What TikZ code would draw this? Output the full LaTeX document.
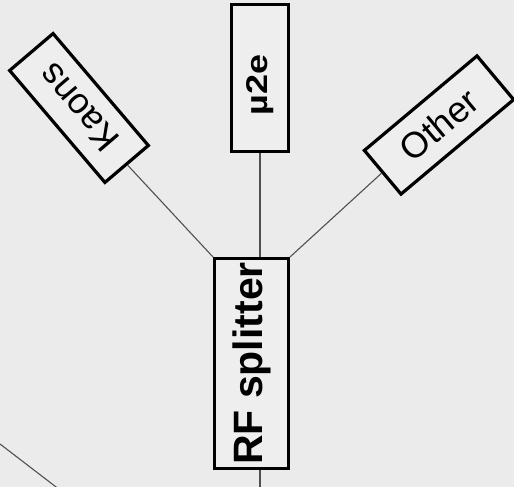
\documentclass[tikz,border=0pt]{standalone}
\usepackage{fontspec}
\setmainfont{Liberation Sans}
\definecolor{bg}{HTML}{EBEBEB}
\definecolor{boxfill}{HTML}{EEEEEE}
\definecolor{wire}{HTML}{505050}
\tikzset{
  blockbox/.style={draw=black, line width=3.2pt, fill=boxfill, inner sep=0pt,
    minimum width=147pt, minimum height=57pt, anchor=center},
  wireline/.style={draw=wire, line width=1.1pt}
}
\begin{document}
\begin{tikzpicture}[x=1pt, y=-1pt]
  % canvas
  \fill[bg] (0,0) rectangle (514,487);
  \useasboundingbox (0,0) rectangle (514,487);

  % blocks
  \node[blockbox, rotate=90] (mu) at (260,78)
    {\fontsize{30}{30}\selectfont\bfseries\scalebox{1.2}[1]{µ2e}\hspace*{14pt}};
  \node[blockbox, rotate=90, minimum width=210pt, minimum height=74pt] (split) at (251.5,363.5)
    {\fontsize{41}{41}\selectfont\bfseries RF splitter};
  \node[blockbox, rotate=130.4] (kaons) at (79,108)
    {\fontsize{36}{36}\selectfont Kaons};
  \node[blockbox, rotate=40] (other) at (439,125)
    {\fontsize{36}{36}\selectfont Other};

  % connection points on the splitter
  \coordinate (top) at (mu.west |- split.east);
  \coordinate (bot) at (mu.west |- 0,490);
  \coordinate (lowa) at (0,444);
  \coordinate (lowb) at (60,490);

  % wires
  \draw[wireline] (mu.west) -- (top);
  \draw[wireline] (split.west -| mu.west) -- (bot);
  \draw[wireline] (kaons.west) -- (split.north east);
  \draw[wireline] (other.west) -- (split.south east);
  \draw[wireline] (lowa) -- (lowb);
\end{tikzpicture}
\end{document}
